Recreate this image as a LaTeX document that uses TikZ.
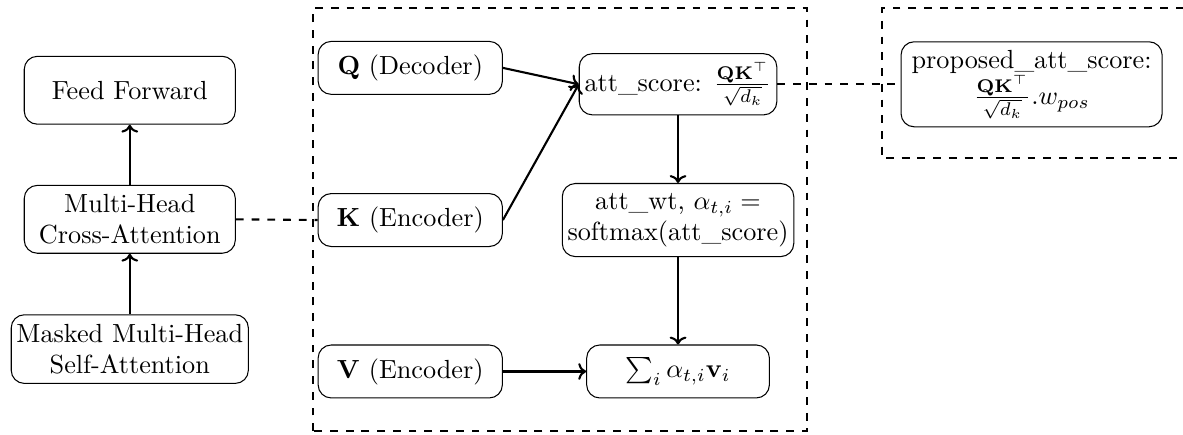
\documentclass[tikz,border=0pt]{standalone}
\usepackage{amsmath}
\usepackage{amssymb}
\usepackage{tikz}
\usetikzlibrary{arrows.meta}

\begin{document}
\begin{tikzpicture}[
  >={To[width=6.4pt,length=3pt]},
  block/.style={draw, rounded corners=5pt, align=center, inner sep=2pt},
  flow/.style={->, thick},
  link/.style={thick, dashed}]
\useasboundingbox (0,0) rectangle (15.86,5.82);
% The decoder stack
\node[block, minimum width=2.83cm, minimum height=0.91cm] (ffwd) at (1.74,4.61) {Feed Forward};
\node[block, minimum width=2.83cm, minimum height=0.91cm] (cross) at (1.74,2.88) {Multi-Head\\Cross-Attention};
\node[block, minimum height=0.92cm] (masked) at (1.74,1.14) {Masked Multi-Head\\Self-Attention};
\draw[flow] (masked) -- (cross);
\draw[flow] (cross) -- (ffwd);
% The inputs
\node[block, minimum width=2.47cm, minimum height=0.71cm] (query) at (5.50,4.91) {$\mathbf{Q}$ (Decoder)};
\node[block, minimum width=2.47cm, minimum height=0.71cm] (key) at (5.50,2.87) {$\mathbf{K}$ (Encoder)};
\node[block, minimum width=2.47cm, minimum height=0.71cm] (value) at (5.50,0.84) {$\mathbf{V}$ (Encoder)};
% The attention steps
\node[block, minimum width=2.51cm, minimum height=0.82cm] (score) at (9.09,4.69) {att\_score: $\frac{\mathbf{QK}^\top}{\sqrt{d_k}}$};
\node[block, minimum width=3.03cm, minimum height=0.98cm] (weight) at (9.09,2.87) {att\_wt, $\alpha_{t,i} =$\\softmax(att\_score)};
\node[block, minimum width=2.45cm, minimum height=0.71cm] (context) at (9.09,0.84) {$\sum_i \alpha_{t,i}\mathbf{v}_i$};
\draw[flow] (query.east) -- (score.west);
\draw[flow] (key.east) -- (score.west);
\draw[flow] (score) -- (weight);
\draw[flow] (weight) -- (context);
\draw[flow] (value) -- (context);
% The proposed score
\node[block, minimum width=3.5cm, minimum height=1.14cm] (proposed) at (13.83,4.69) {proposed\_att\_score:\\$\frac{\mathbf{QK}^\top}{\sqrt{d_k}}.w_{pos}$};
% The dashed frames
\draw[link] (4.20,0.04) rectangle (10.82,5.71);
\draw[link] (16.5,5.71) -- (11.82,5.71) -- (11.82,3.70) -- (16.5,3.70);
\draw[link] (cross.east) -- (key.west);
\draw[link] (score.east) -- (proposed.west);
\end{tikzpicture}
\end{document}
